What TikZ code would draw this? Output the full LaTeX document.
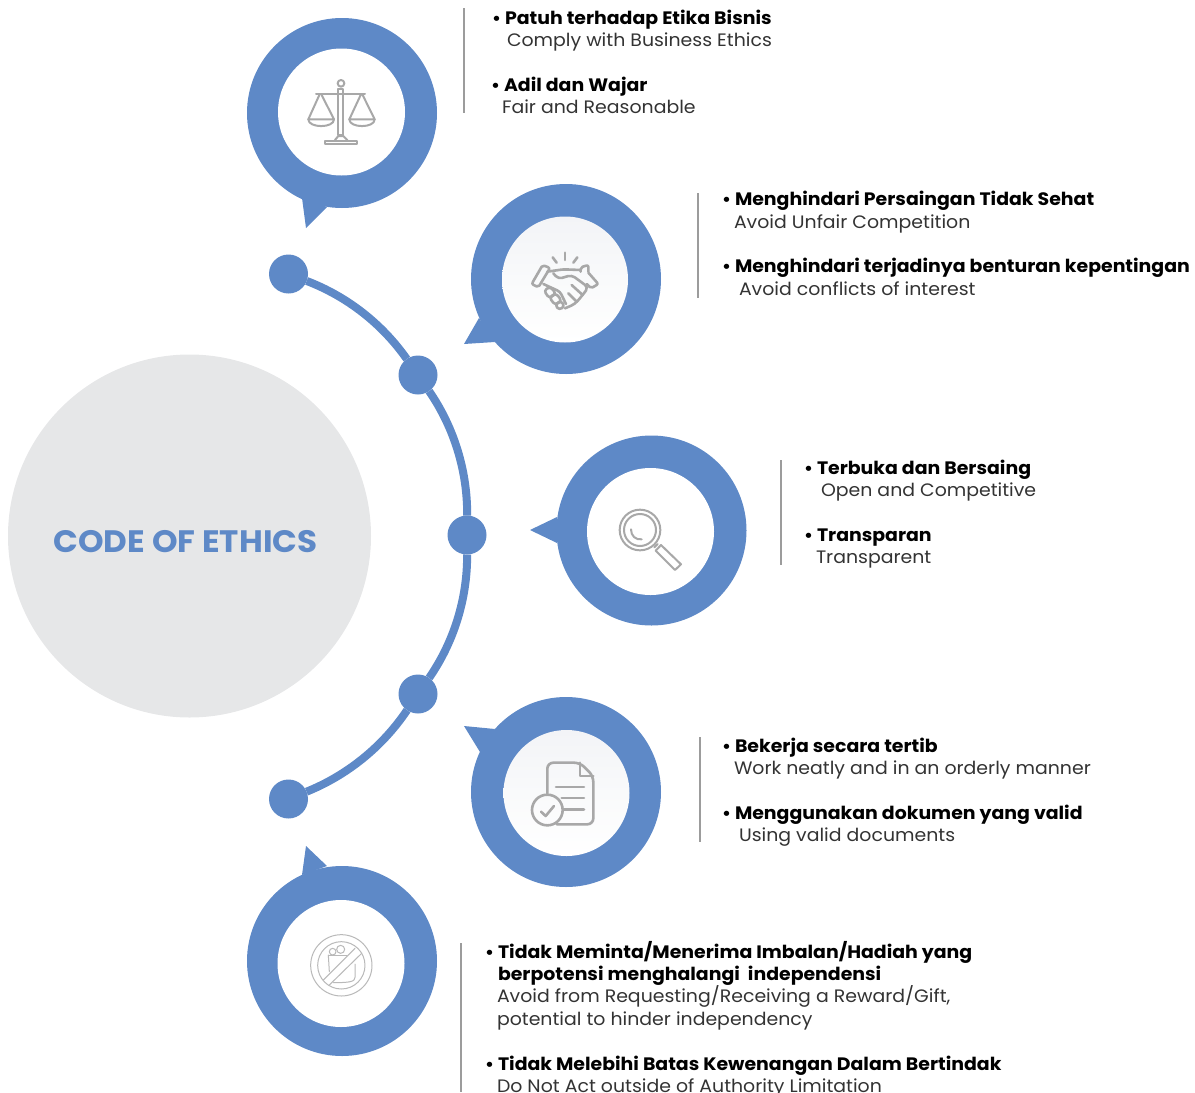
\documentclass[tikz,border=0pt]{standalone}
\usepackage{fontspec}
\setmainfont[FakeStretch=1.05]{Poppins}
\usepackage[HTML]{xcolor}
\usepackage{tikz}
\usetikzlibrary{positioning, arrows.meta}

\definecolor{ringblue}{HTML}{5E89C7}
\definecolor{hubgray}{HTML}{E6E7E8}
\definecolor{rulegray}{HTML}{9C9C9C}
\definecolor{icongray}{HTML}{A8A8A8}
\definecolor{softgray}{HTML}{F3F4F7}

\newcommand{\bul}{\makebox[12pt][l]{\hspace{-1pt}\fontsize{17}{17}\selectfont•}}

\begin{document}
\begin{tikzpicture}[
  x=1pt, y=-1pt,
  every node/.style={inner sep=0pt, outer sep=0pt},
  hub/.style={circle, fill=hubgray, minimum size=363pt},
  title/.style={font=\bfseries\fontsize{31}{31}\selectfont, text=ringblue},
  dot/.style={circle, fill=ringblue, minimum size=39pt},
  ring/.style={circle, fill=ringblue, minimum size=190pt},
  hole/.style={circle, fill=white, minimum size=127pt},
  softhole/.style={circle, top color=softgray, bottom color=white, minimum size=126pt},
  tail/.style={fill=ringblue},
  curve/.style={draw=ringblue, line width=8pt},
  sep/.style={draw=rulegray, line width=2pt},
  head/.style={anchor=base west, font=\bfseries\fontsize{18}{18}\selectfont, text=black},
  body/.style={anchor=base west, font=\fontsize{18}{18}\selectfont, text=black!80},
  icon/.style={draw=icongray, line width=2pt, line join=round, line cap=round},
  boldicon/.style={draw=icongray, line width=2.6pt, line join=round, line cap=round},
  thinicon/.style={draw=icongray!80, line width=1pt, line join=round, line cap=round}
  ]
\useasboundingbox (0,0) rectangle (1195,1093);

\node[hub] (hub) at (189.5,536) {};
\node[title] (title) at (185.5,542) {CODE OF ETHICS};

% arc of dots
\node[dot] (d1) at (288.5,274) {};
\node[dot] (d2) at (418,375) {};
\node[dot] (d3) at (467,535) {};
\node[dot] (d4) at (418,694) {};
\node[dot] (d5) at (288.5,799) {};
\draw[curve] (d1) to[bend left=17, looseness=0.87] (d2);
\draw[curve] (d2) to[bend left=17.5, looseness=0.87] (d3);
\draw[curve] (d3) to[bend left=17.5, looseness=0.87] (d4);
\draw[curve] (d4) to[bend left=17, looseness=0.87] (d5);

% bubbles
\fill[tail] (302,198) -- (306,228) -- (327,207) -- cycle;
\node[ring] (b1) at (342,113) {};
\node[hole] (i1) at (341.5,112) {};
\fill[tail] (479,318) -- (464,344) -- (495,342) -- cycle;
\node[ring] (b2) at (566,279) {};
\node[softhole] (i2) at (565,279.5) {};
\fill[tail] (557,517) -- (530,530) -- (557,543) -- cycle;
\node[ring] (b3) at (651.5,530.5) {};
\node[hole] (i3) at (650.5,531.5) {};
\fill[tail] (495,729) -- (464,726) -- (480,752) -- cycle;
\node[ring] (b4) at (566,792) {};
\node[softhole] (i4) at (566.5,793) {};
\fill[tail] (302,875) -- (306,846) -- (327,866) -- cycle;
\node[ring] (b5) at (342,961) {};
\node[hole] (i5) at (341,963.5) {};

% scales
\begin{scope}[shift={(240,0)}, scale=1/3]
\draw[icon] (228,282) -- (375,282);
\draw[icon] (295,266) rectangle (310,405);
\draw[icon] (303,250) circle (10);
\draw[icon] (238,285) -- (205,358) -- (282,358) -- (245,285);
\draw[icon] (362,285) -- (328,358) -- (404,358) -- (368,285);
\draw[icon] (205,358) .. controls (205,385) and (282,385) .. (282,358);
\draw[icon] (328,358) .. controls (328,385) and (404,385) .. (404,358);
\draw[icon] (255,433) -- (255,422) -- (352,422) -- (352,433) -- cycle;
\draw[icon] (285,420) -- (295,408) -- (310,408) -- (322,420);
\end{scope}

% handshake
\begin{scope}[shift={(460,180)}, scale=1/3]
\draw[boldicon] (315,218) -- (315,240);
\draw[boldicon] (278,232) -- (290,248);
\draw[boldicon] (352,232) -- (340,248);
\draw[boldicon, rounded corners=2pt] (248,255) -- (270,264) -- (235,322) -- (215,312) -- cycle;
\draw[boldicon, rounded corners=2pt] (362,275) -- (362,262) -- (385,255) -- (385,275) (385,278) -- (415,312) -- (393,325) -- (380,312);
\draw[boldicon, rounded corners=3pt] (262,275) -- (310,268) -- (362,270);
\draw[boldicon, rounded corners=4pt] (280,280) -- (295,297) -- (335,285) -- (385,322) -- (368,345) -- (345,372) -- (315,385);
\draw[boldicon, rounded corners=3pt] (250,312) -- (300,335) -- (318,372);
\draw[boldicon, rounded corners=3pt] (252,332) -- (270,320) -- (288,340) -- (268,355) -- cycle;
\draw[boldicon, rounded corners=3pt] (268,352) -- (288,340) -- (305,362) -- (285,375) -- cycle;
\draw[boldicon, rounded corners=3pt] (285,375) -- (302,362) -- (314,378) -- (298,390) -- cycle;
\draw[boldicon] (335,315) -- (368,345);
\draw[boldicon] (325,340) -- (350,365);
\end{scope}

% magnifier
\begin{scope}[shift={(525,430)}, scale=1/3]
\draw[icon] (345,300) circle (61);
\draw[icon] (345,300) circle (48);
\draw[icon] (318,298) .. controls (318,318) and (332,330) .. (350,328);
\draw[icon] (388,352) -- (398,342);
\draw[icon] (392,362) -- (408,345) -- (468,403) -- (450,420) -- cycle;
\end{scope}

% document
\begin{scope}[shift={(460,690)}, scale=1/3]
\draw[boldicon, rounded corners=6pt] (262,310) -- (262,218) -- (360,218) -- (400,258) -- (400,403) -- (290,403);
\draw[boldicon] (360,218) -- (360,258) -- (400,258);
\draw[boldicon] (288,291) -- (372,291);
\draw[boldicon] (305,324) -- (372,324);
\draw[boldicon] (310,358) -- (372,358);
\draw[boldicon] (262,360) circle (46);
\draw[boldicon] (243,365) -- (257,378) -- (282,348);
\end{scope}

% no gift
\begin{scope}[shift={(240,840)}, scale=1/3]
\draw[thinicon] (304,376) circle (92);
\draw[thinicon] (304,376) circle (71);
\draw[thinicon] (250,420) -- (345,325);
\draw[thinicon] (268,435) -- (365,340);
\draw[thinicon] (265,345) -- (268,395) ;
\draw[thinicon] (265,345) -- (320,345);
\draw[thinicon] (345,372) -- (345,412) .. controls (345,425) and (330,428) .. (280,428);
\draw[thinicon] (302,328) circle (12);
\draw[thinicon] (278,335) circle (10);
\end{scope}

% separators
\coordinate (s1a) at (463.5,8);   \coordinate (s1b) at (463.5,113);
\coordinate (s2a) at (697.5,193); \coordinate (s2b) at (697.5,298);
\coordinate (s3a) at (781,460);   \coordinate (s3b) at (781,565);
\coordinate (s4a) at (699.5,737); \coordinate (s4b) at (699.5,842);
\coordinate (s5a) at (460.5,943); \coordinate (s5b) at (460.5,1092);
\draw[sep] (s1a) -- (s1b);
\draw[sep] (s2a) -- (s2b);
\draw[sep] (s3a) -- (s3b);
\draw[sep] (s4a) -- (s4b);
\draw[sep] (s5a) -- (s5b);

% texts
\node[head] (t1) at (493,24) {\bul Patuh terhadap Etika Bisnis};
\node[body] (t2) at (507,46) {Comply with Business Ethics};
\node[head] (t3) at (492,91) {\bul Adil dan Wajar};
\node[body] (t4) at (502,113) {Fair and Reasonable};

\node[head] (t5) at (723,205) {\bul Menghindari Persaingan Tidak Sehat};
\node[body] (t6) at (734,228) {Avoid Unfair Competition};
\node[head] (t7) at (723,272) {\bul Menghindari terjadinya benturan kepentingan};
\node[body] (t8) at (739,295) {Avoid conflicts of interest};

\node[head] (t9) at (805,474) {\bul Terbuka dan Bersaing};
\node[body] (t10) at (821,496) {Open and Competitive};
\node[head] (t11) at (805,541) {\bul Transparan};
\node[body] (t12) at (816,563) {Transparent};

\node[head] (t13) at (723,752) {\bul Bekerja secara tertib};
\node[body] (t14) at (734,774) {Work neatly and in an orderly manner};
\node[head] (t15) at (723,819) {\bul Menggunakan dokumen yang valid};
\node[body] (t16) at (739,841) {Using valid documents};

\node[head] (t17) at (486,958) {\bul Tidak Meminta/Menerima Imbalan/Hadiah yang};
\node[head] (t18) at (498,980) {berpotensi menghalangi\ \ independensi};
\node[body] (t19) at (497,1002) {Avoid from Requesting/Receiving a Reward/Gift,};
\node[body] (t20) at (497,1025) {potential to hinder independency};
\node[head] (t21) at (486,1070) {\bul Tidak Melebihi Batas Kewenangan Dalam Bertindak};
\node[body] (t22) at (497,1092) {Do Not Act outside of Authority Limitation};
\end{tikzpicture}
\end{document}
